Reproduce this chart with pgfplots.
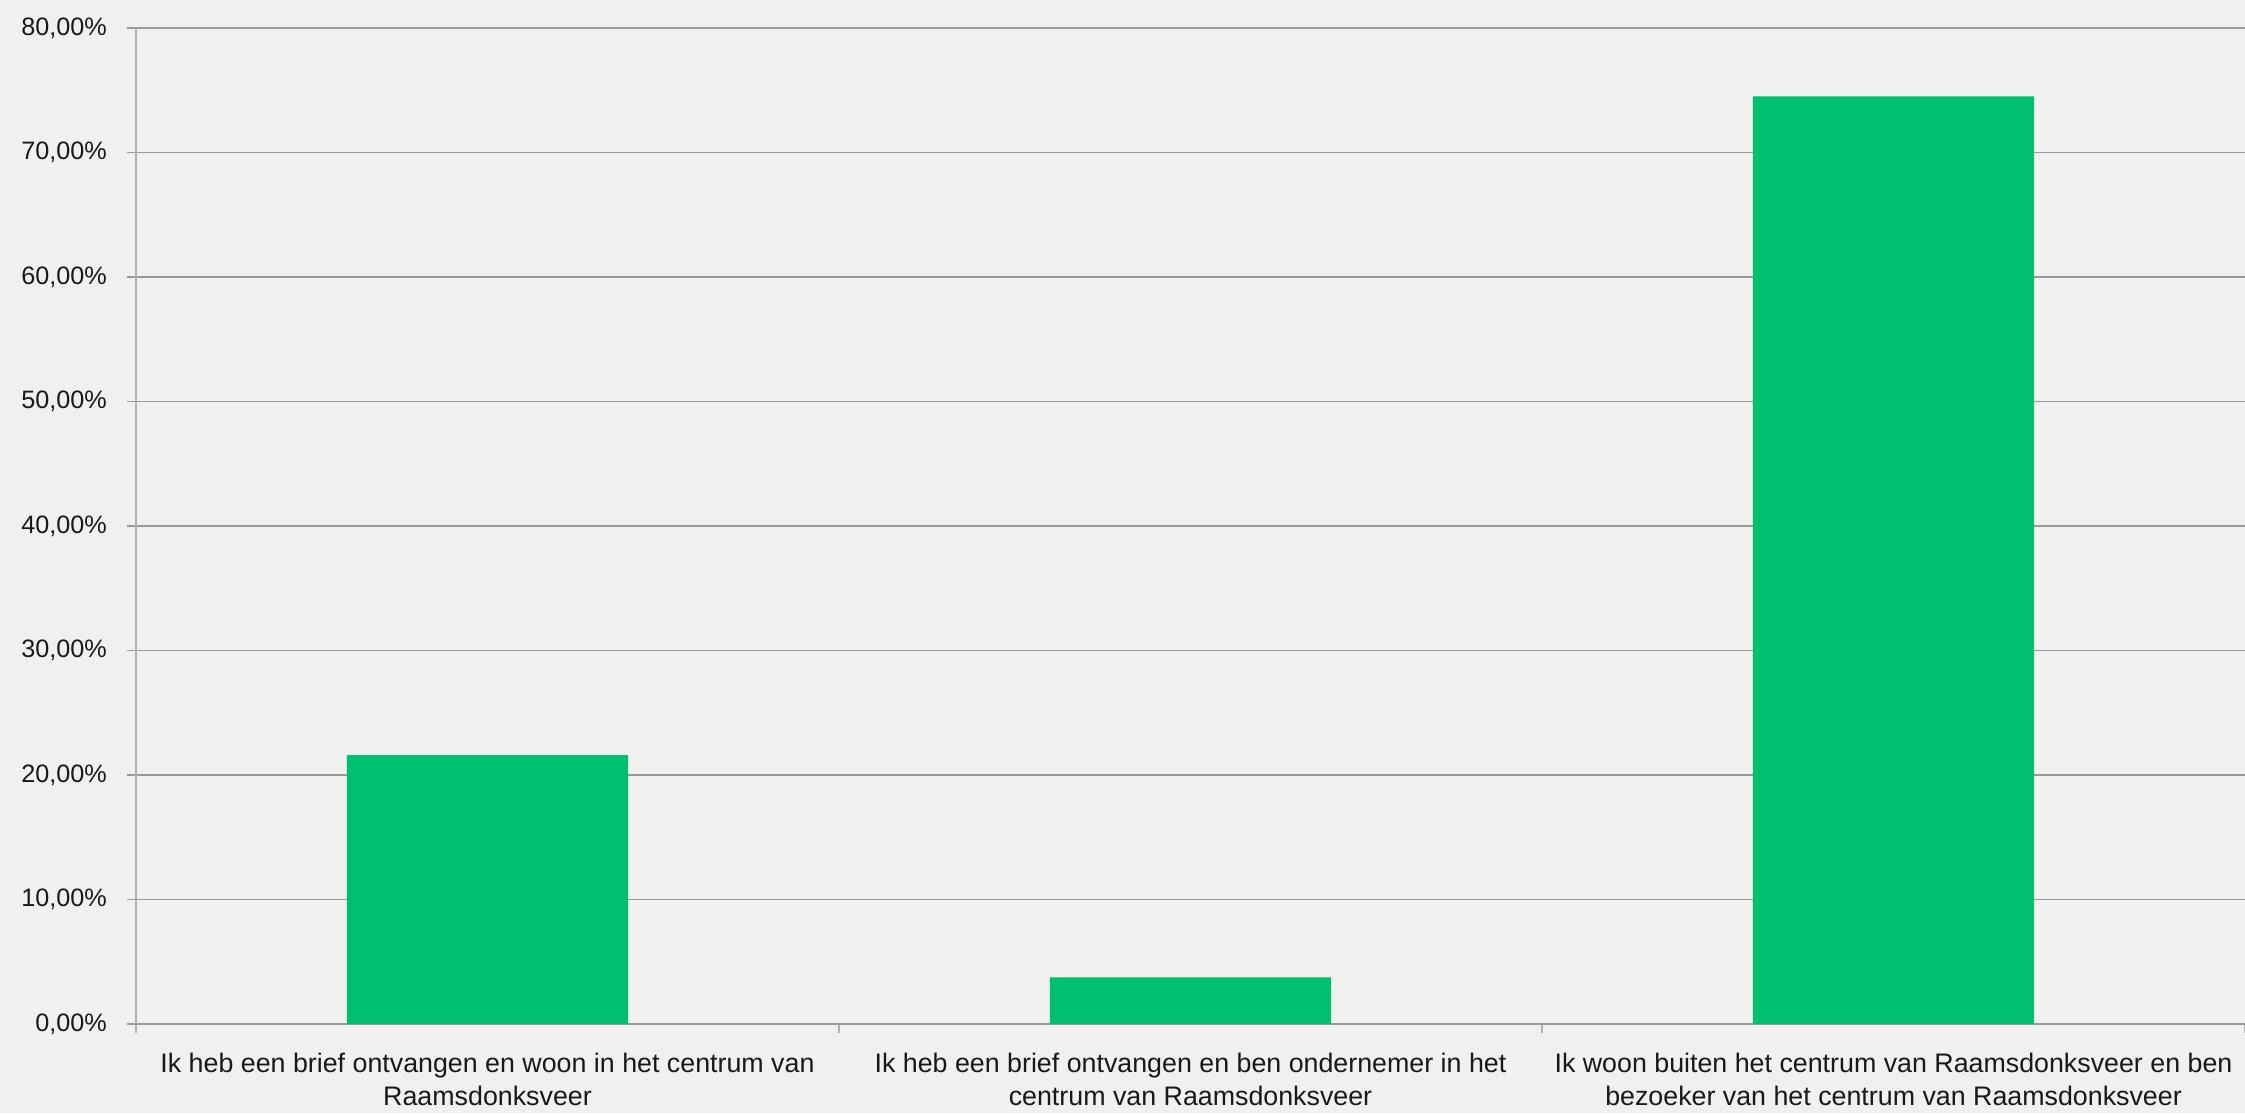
\documentclass[border=0pt]{standalone}
\usepackage{pgfplots}
\pgfplotsset{compat=1.18}
\usepackage{fontspec}
\setmainfont{Liberation Sans}
\definecolor{bg}{RGB}{240,240,239}
\definecolor{bargreen}{RGB}{0,191,111}
\definecolor{gridgray}{RGB}{153,153,153}
\definecolor{axisgray}{RGB}{178,178,178}
\begin{document}
\begin{tikzpicture}
\fill[bg] (-34pt,-22.25pt) rectangle (527.25pt,256pt);
\path[use as bounding box] (-34pt,-22.25pt) rectangle (527.25pt,256pt);
\begin{axis}[
  at={(0,0)}, anchor=south west,
  scale only axis,
  width=527.25pt, height=249pt,
  xmin=-0.5, xmax=2.5,
  ymin=0, ymax=80,
  axis x line*=bottom, axis y line*=left,
  axis line style={axisgray, line width=0.4pt},
  x axis line style={gridgray, line width=0.3pt},
  ytick={0,10,...,80},
  yticklabels={{0,00\%},{10,00\%},{20,00\%},{30,00\%},{40,00\%},{50,00\%},{60,00\%},{70,00\%},{80,00\%}},
  ymajorgrids,
  grid style={gridgray, line width=0.3pt},
  xtick={0,1,2},
  major x tick style={draw=none},
  minor xtick={-0.5,0.5,1.5,2.5},
  minor x tick style={axisgray, line width=0.3pt},
  major y tick style={gridgray, line width=0.3pt},
  tick align=outside,
  major tick length=2.25pt,
  minor tick length=2.25pt,
  xticklabels={{Ik heb een brief ontvangen en woon in het centrum van\\Raamsdonksveer},{Ik heb een brief ontvangen en ben ondernemer in het\\centrum van Raamsdonksveer},{Ik woon buiten het centrum van Raamsdonksveer en ben\\bezoeker van het centrum van Raamsdonksveer}},
  xticklabel style={align=center, font=\fontsize{6.7}{8.3}\selectfont, text=black!90, yshift=-1.5pt},
  yticklabel style={font=\fontsize{6.3}{8}\selectfont, text=black!90, xshift=-1.5pt},
  /pgf/number format/assume math mode=true,
  axis background/.style={fill=bg},
  clip=false,
]
\addplot[ybar, bar width=0.4, fill=bargreen, draw=none] coordinates {(0,21.6) (1,3.75) (2,74.5)};
\end{axis}
\end{tikzpicture}
\end{document}
